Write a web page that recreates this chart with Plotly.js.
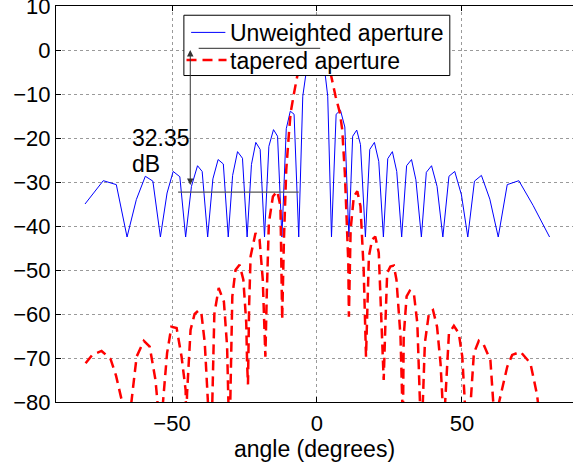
<!DOCTYPE html>
<html>
<head>
<meta charset="utf-8">
<script src="https://cdn.plot.ly/plotly-3.0.1.min.js"></script>
<style>html,body{margin:0;padding:0;background:#fff;}#chart{width:573px;height:462px;}</style>
</head>
<body>
<div id="chart"></div>
<script>
// ---- data ----
var seriesNames = ["Unweighted aperture", "tapered aperture"];

var unweightedAngle = [-80.0,-73.7,-69.2,-65.5,-62.3,-59.2,-56.6,-54.0,-51.7,-49.6,-47.3,-45.3,-43.3,-41.2,-39.6,-37.7,
  -35.9,-34.1,-32.3,-30.6,-29.1,-27.4,-25.7,-24.1,-22.6,-21.1,-19.6,-18.1,-16.6,-15.0,-13.6,-12.1,-10.6,-9.2,-7.9,-6.3,
  -4.9,-3.4,-2.0,-0.6,0.9,2.3,3.7,5.0,6.6,8.1,9.6,11.0,12.3,13.7,15.0,16.7,18.2,19.8,21.3,22.9,24.4,26.0,27.5,29.2,
  30.9,32.6,34.1,36.0,37.7,39.5,41.4,43.4,45.5,47.5,49.8,52.0,54.3,56.7,59.6,62.5,65.6,69.6,74.5,80.2];
var unweightedDb = [-35.0,-29.7,-30.6,-42.5,-34.0,-28.7,-29.8,-42.5,-32.5,-27.6,-28.8,-42.5,-31.0,-26.3,-27.6,-42.5,
  -29.3,-24.9,-25.9,-42.5,-28.5,-23.1,-24.6,-42.5,-26.0,-21.0,-22.6,-42.5,-21.9,-18.1,-19.6,-42.5,-17.9,-13.9,-14.6,-42.5,
  -10.5,-3.5,-0.9,0.0,-0.5,-2.6,-10.5,-42.5,-14.6,-13.7,-17.5,-42.5,-19.6,-18.2,-21.5,-42.5,-22.6,-21.0,-25.3,-42.5,
  -24.7,-23.1,-27.6,-42.5,-26.3,-24.9,-29.5,-42.5,-27.8,-26.3,-31.0,-42.5,-28.7,-27.6,-32.9,-42.5,-29.8,-28.5,-33.9,-42.5,
  -30.6,-29.7,-35.3,-42.5];

var taperedAngle = [-79.8,-77.5,-74.3,-71.2,-69.3,-67.2,-65.6,
  -64.0,-62.2,-59.7,-57.7,-55.7,-55.0,-54.0,
  -53.1,-51.7,-50.2,-48.4,-46.7,-45.3,-45.1,
  -44.8,-43.6,-42.2,-40.7,-39.8,-38.7,-37.5,-36.8,
  -36.1,-35.4,-33.9,-32.1,-31.0,-30.5,-30.2,
  -29.9,-29.2,-28.1,-26.7,-25.4,-24.4,-24.1,-23.8,
  -23.4,-22.9,-21.2,-19.8,-18.7,-17.8,
  -17.3,-16.6,-15.2,-13.7,-12.6,-12.0,
  -11.4,-10.6,-9.7,-9.1,-8.0,-6.8,-4.5,-2.5,-0.6,1.3,3.2,4.9,6.4,7.9,8.7,9.6,10.1,10.8,11.0,
  11.6,12.7,13.9,15.0,16.1,16.9,
  17.5,17.9,19.0,20.1,21.3,22.5,23.0,
  23.6,24.2,25.3,26.5,27.4,28.8,29.4,29.6,
  29.9,30.9,32.0,33.4,34.6,35.7,36.0,
  36.5,37.2,38.6,40.0,41.4,42.6,43.3,43.6,
  44.2,45.5,47.2,48.9,50.1,51.0,52.0,
  53.0,54.1,55.8,57.5,59.8,61.0,62.0,
  62.8,65.6,67.3,70.2,73.6,75.9,77.0];
var taperedDb = [-71.2,-69.3,-68.4,-70.2,-74.0,-80.0,-95.0,
  -80.0,-69.7,-66.1,-67.4,-75.0,-80.0,-95.0,
  -80.0,-68.9,-62.9,-63.2,-69.7,-77.3,-85.0,
  -78.0,-63.6,-60.0,-59.1,-60.2,-66.6,-78.8,-90.0,
  -80.0,-60.0,-54.1,-57.2,-67.4,-80.0,-90.0,
  -80.0,-56.0,-50.0,-48.8,-52.2,-62.0,-71.2,-76.0,
  -58.0,-46.9,-41.6,-43.1,-52.2,-69.7,
  -55.0,-39.3,-33.3,-32.1,-35.5,-61.3,
  -43.1,-27.2,-19.2,-14.3,-10.1,-5.9,-2.2,-0.6,0.0,-0.6,-2.2,-5.9,-10.5,-14.3,-18.1,-27.9,-36.3,-48.4,-60.6,
  -40.8,-33.3,-32.1,-35.5,-50.0,-69.7,
  -55.0,-46.9,-43.1,-42.4,-46.1,-65.1,-75.0,
  -62.0,-50.7,-49.2,-49.0,-52.2,-65.1,-80.0,-88.0,
  -65.1,-56.0,-54.7,-55.3,-62.1,-80.0,-90.0,
  -80.0,-66.6,-59.8,-59.1,-62.9,-71.2,-80.0,-90.0,
  -80.0,-64.4,-62.7,-64.4,-69.7,-80.0,-92.0,
  -80.0,-68.9,-66.1,-67.0,-70.5,-80.0,-92.0,
  -80.0,-72.0,-69.3,-68.6,-71.2,-78.4,-85.0];

var xTickVals = [-50, 0, 50];
var yTickVals = [-80, -70, -60, -50, -40, -30, -20, -10, 0, 10];
var xTitle = "angle (degrees)";
var gapLabel = ["32.35", "dB"];

// ---- drawing ----
var FONT = "Liberation Sans, Arial, Helvetica, sans-serif";
var FS = 22;
var FT = 23;

var traces = [
  {x: unweightedAngle, y: unweightedDb, type: "scatter", mode: "lines", name: seriesNames[0],
   line: {color: "#0000ff", width: 1}, showlegend: false, hoverinfo: "skip"},
  {x: taperedAngle, y: taperedDb, type: "scatter", mode: "lines", name: seriesNames[1],
   line: {color: "#ff0000", width: 2.5, dash: "10px,6px"}, showlegend: false, hoverinfo: "skip"}
];

var axisCommon = {
  showline: true, linecolor: "#000", linewidth: 1,
  ticks: "inside", ticklen: 5, tickcolor: "#000", tickwidth: 1,
  showgrid: true, gridcolor: "#9a9a9a", griddash: "dot", gridwidth: 1,
  zeroline: false, ticklabeloverflow: "allow",
  tickfont: {family: FONT, size: FS, color: "#000"}
};

var layout = {
  width: 573, height: 462,
  margin: {l: 56, r: 0, t: 6, b: 60, pad: 0},
  paper_bgcolor: "#fff", plot_bgcolor: "#fff",
  showlegend: false,
  xaxis: Object.assign({}, axisCommon, {
    range: [-90, 88.28], tickmode: "array", tickvals: xTickVals, mirror: "ticks",
    ticklabelstandoff: 2,
    title: {text: xTitle, font: {family: FONT, size: FT, color: "#000"}, standoff: 5}
  }),
  yaxis: Object.assign({}, axisCommon, {
    range: [-80, 10], tickmode: "array", tickvals: yTickVals, mirror: false,
    ticklabelstandoff: 0
  }),
  shapes: [
    // legend box
    {type: "rect", xref: "x", yref: "y", x0: -45.9, x1: 45.8, y0: -5.8, y1: 7.9,
     fillcolor: "#fff", line: {color: "#000", width: 1}, layer: "above"},
    {type: "line", xref: "x", yref: "y", x0: -43.4, x1: -31.6, y0: 4.0, y1: 4.0,
     line: {color: "#0000ff", width: 1}, layer: "above"},
    {type: "line", xref: "x", yref: "y", x0: -45.0, x1: -31.2, y0: -2.3, y1: -2.3,
     line: {color: "#ff0000", width: 2.5, dash: "10px,6px"}, layer: "above"},
    // measurement lines
    {type: "line", xref: "x", yref: "y", x0: -40.8, x1: 1.1, y0: 0.35, y1: 0.35,
     line: {color: "#555", width: 1.2}, layer: "above"},
    {type: "line", xref: "x", yref: "y", x0: -47.9, x1: -6.3, y0: -32.3, y1: -32.3,
     line: {color: "#555", width: 1.2}, layer: "above"}
  ],
  annotations: [
    {x: -30.8, y: 3.8, xref: "x", yref: "y", text: seriesNames[0], showarrow: false,
     xanchor: "left", yanchor: "middle", font: {family: FONT, size: FT, color: "#000"}},
    {x: -30.8, y: -2.6, xref: "x", yref: "y", text: seriesNames[1], showarrow: false,
     xanchor: "left", yanchor: "middle", font: {family: FONT, size: FT, color: "#000"}},
    {x: -64.5, y: -19.9, xref: "x", yref: "y", text: gapLabel[0], showarrow: false,
     xanchor: "left", yanchor: "middle", font: {family: FONT, size: FT, color: "#000"}},
    {x: -64.5, y: -26.0, xref: "x", yref: "y", text: gapLabel[1], showarrow: false,
     xanchor: "left", yanchor: "middle", font: {family: FONT, size: FT, color: "#000"}},
    {x: -43.7, y: 0, ax: -43.7, ay: -31.0, xref: "x", yref: "y", axref: "x", ayref: "y",
     text: "", showarrow: true, arrowside: "end+start", arrowhead: 2, arrowsize: 1.3,
     arrowwidth: 1, arrowcolor: "#333", standoff: 0, startstandoff: 0}
  ]
};

Plotly.newPlot("chart", traces, layout, {staticPlot: true, displayModeBar: false});
</script>
</body>
</html>
